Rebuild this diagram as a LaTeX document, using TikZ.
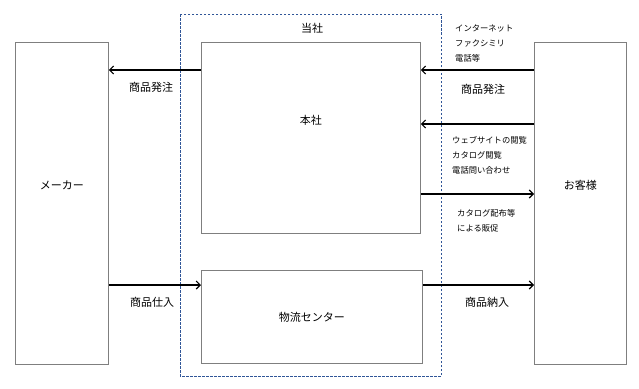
\documentclass[tikz,border=0pt]{standalone}
\usepackage{fontspec}
\setmainfont{Noto Sans CJK JP}
\usetikzlibrary{arrows.meta,positioning,calc}
\definecolor{boxgray}{HTML}{7F7F7F}
\definecolor{dashblue}{HTML}{2F5597}
\tikzset{
  party/.style={draw=boxgray, line width=0.9pt, fill=white, inner sep=0pt,
    anchor=north west},
  firm/.style={draw=dashblue, line width=0.9pt, dash pattern=on 2.5pt off 1.5pt},
  flow/.style={-{Straight Barb[length=4pt,width=8pt]}, line width=1.1pt, color=black},
  lbl/.style={font=\fontsize{11}{13}\selectfont, inner sep=0pt},
  note/.style={font=\fontsize{8.3}{15}\selectfont, align=left, anchor=north west, inner sep=0pt},
}
\begin{document}
\begin{tikzpicture}[x=1pt,y=-1pt]
  \useasboundingbox (0,0) rectangle (639,388);
  % dashed frame of the company
  \draw[firm] (180,14) rectangle (441,376);
  \node[lbl] (firmlbl) at (312,28) {当社};
  % boxes
  \node[party, minimum width=93pt, minimum height=322pt] (maker) at (15,42) {};
  \node[party, minimum width=92pt, minimum height=322pt] (cust) at (534,42) {};
  \node[party, minimum width=219pt, minimum height=191pt] (hq) at (201,42) {};
  \node[party, minimum width=221pt, minimum height=93pt] (dc) at (201,270) {};
  \node[lbl] (makerlbl) at ($(maker.north)+(0,143)$) {メーカー};
  \node[lbl] (custlbl) at ($(cust.north)+(0,143)$) {お客様};
  \node[lbl] (hqlbl) at ($(hq.north)+(0,78)$) {本社};
  \node[lbl] (dclbl) at (dc.center) {物流センター};
  % connectors
  \draw[flow] (hq.west |- 0,70) -- (maker.east |- 0,70);
  \draw[flow] (cust.west |- 0,70) -- (hq.east |- 0,70);
  \draw[flow] (cust.west |- 0,124) -- (hq.east |- 0,124);
  \draw[flow] (hq.east |- 0,194) -- (cust.west |- 0,194);
  \draw[flow] (maker.east |- 0,285) -- (dc.west |- 0,285);
  \draw[flow] (dc.east |- 0,285) -- (cust.west |- 0,285);
  % labels
  \node[lbl] (ordl) at (151,87) {商品発注};
  \node[lbl] (buyl) at (152,302) {商品仕入};
  \node[lbl] (ordr) at (483,89) {商品発注};
  \node[lbl] (delr) at (487,302) {商品納入};
  \node[note] (chan) at (455,25) {インターネット\\ファクシミリ\\電話等};
  \node[note] (web) at (452,136) {ウェブサイトの閲覧\\カタログ閲覧\\電話問い合わせ};
  \node[note] (promo) at (457,209) {カタログ配布等\\による販促};
\end{tikzpicture}
\end{document}
